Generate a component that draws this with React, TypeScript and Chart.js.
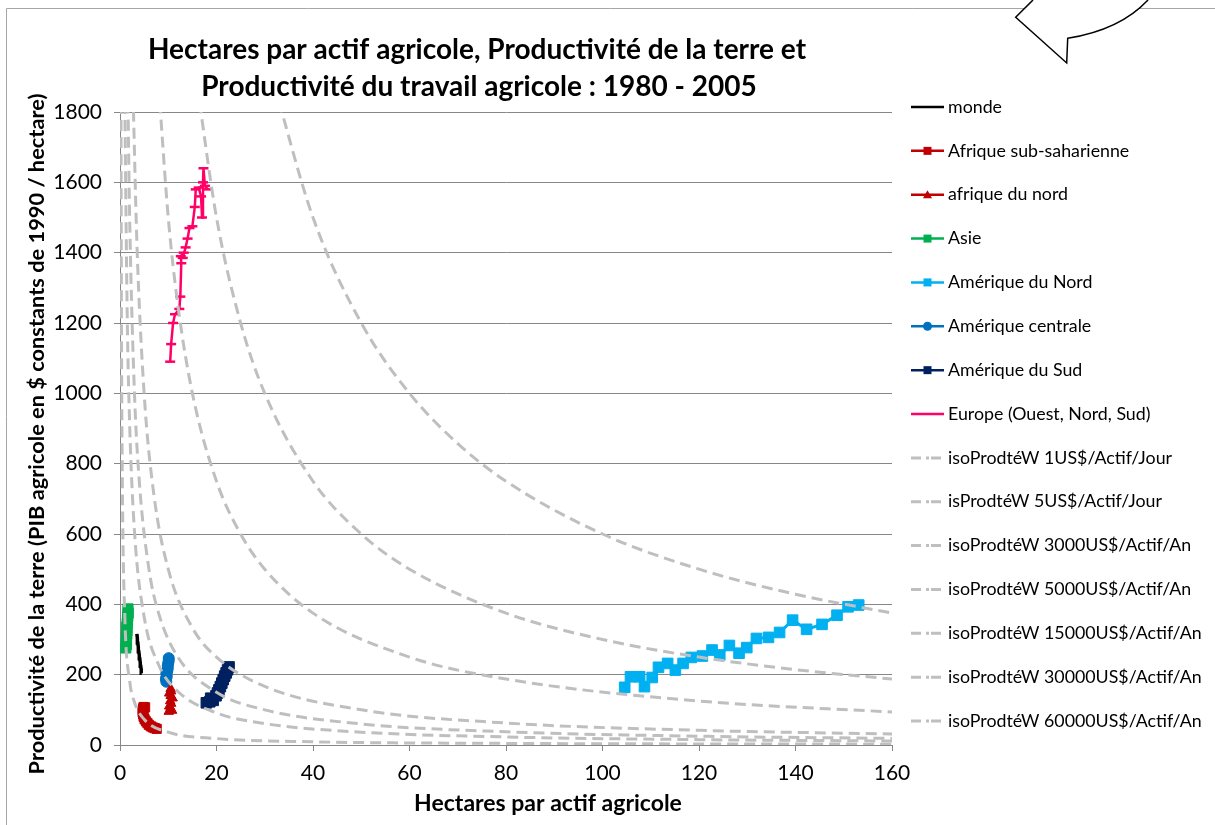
import React, { useEffect, useRef } from 'react';
import { Chart, registerables } from 'chart.js';

Chart.register(...registerables);

const FONT = 'Lato, "Open Sans", sans-serif';

// ---------- Titles ----------
const titleLines = [
  'Hectares par actif agricole, Productivité de la terre et',
  'Productivité du travail agricole : 1980 - 2005',
];
const xTitle = 'Hectares par actif agricole';
const yTitle = 'Productivité de la terre (PIB agricole en $ constants de 1990 / hectare)';

// ---------- Axis ranges ----------
const xMin = 0, xMax = 160, xStep = 20;
const yMin = 0, yMax = 1800, yStep = 200;

// ---------- Regional series (hectares / worker, $ / hectare) ----------
const mondeHa = [4.5, 4.4, 4.3, 4.2, 4.1, 4.0, 3.9, 3.8, 3.7, 3.6, 3.5];
const mondeProd = [204, 214, 224, 234, 245, 255, 265, 277, 290, 303, 316];

const afSubHa = [7.6, 7.2, 6.8, 6.4, 6.0, 5.7, 5.4, 5.1, 4.9, 4.8, 4.7, 4.7, 4.8, 5.2, 4.9];
const afSubProd = [46, 48, 50, 53, 57, 62, 67, 73, 80, 87, 93, 99, 104, 107, 108];

const afNordHa = [10.1, 10.8, 10.5, 10.2, 10.6, 10.4, 10.9, 10.5, 10.2, 10.6, 10.5];
const afNordProd = [95, 98, 104, 110, 118, 125, 133, 140, 147, 153, 160];

const asieHa = [1.2, 1.3, 1.35, 1.3, 1.4, 1.45, 1.4, 1.5, 1.55, 1.6, 1.7, 1.65];
const asieProd = [276, 285, 295, 305, 315, 325, 335, 345, 355, 365, 375, 387];

const amNordHa = [104.6, 105.8, 107.7, 108.7, 110.3, 111.6, 113.5, 115.1, 116.7, 118.4, 120.7, 122.7, 124.3,
  126.3, 128.3, 129.9, 131.9, 134.4, 136.7, 139.4, 142.3, 145.5, 148.6, 150.9, 153.1];
const amNordProd = [164, 194, 194, 166, 192, 221, 232, 213, 232, 249, 253, 270, 256,
  283, 261, 277, 303, 306, 320, 355, 329, 343, 369, 393, 398];

const amCentHa = [9.6, 9.5, 9.7, 9.6, 9.8, 9.9, 9.9, 10.0, 10.1, 10.1];
const amCentProd = [180, 188, 195, 203, 210, 218, 226, 233, 240, 247];

const amSudHa = [17.9, 18.6, 19.3, 18.8, 19.9, 20.2, 20.5, 20.8, 21.1, 21.4, 21.7, 22.0, 22.3, 22.6];
const amSudProd = [120, 123, 127, 133, 140, 148, 157, 166, 176, 186, 196, 205, 214, 222];

const europeHa = [10.4, 10.6, 11.0, 11.4, 12.3, 12.5, 12.7, 12.6, 13.2, 13.0, 13.6, 14.0, 14.4, 15.0,
  15.5, 15.7, 16.3, 16.8, 17.0, 17.2, 17.3, 17.6, 18.2];
const europeProd = [1090, 1140, 1200, 1225, 1240, 1275, 1370, 1390, 1400, 1385, 1415, 1440, 1470, 1475,
  1530, 1580, 1585, 1560, 1500, 1600, 1640, 1590, 1580];

// ---------- Iso-productivity curves (hectares, $ / hectare) ----------
const iso1Ha = [0.2, 0.3, 0.5, 1, 2, 3, 5, 10, 20, 40, 80, 160];
const iso1Prod = [1825, 1217, 730, 365, 182.5, 121.7, 73, 36.5, 18.3, 9.1, 4.6, 2.3];

const iso5Ha = [1, 1.5, 2, 3, 5, 8, 12, 20, 30, 50, 80, 120, 160];
const iso5Prod = [1825, 1217, 912.5, 608.3, 365, 228.1, 152.1, 91.3, 60.8, 36.5, 22.8, 15.2, 11.4];

const iso3000Ha = [1.6, 2, 3, 4, 6, 8, 12, 20, 30, 50, 80, 120, 160];
const iso3000Prod = [1875, 1500, 1000, 750, 500, 375, 250, 150, 100, 60, 37.5, 25, 18.75];

const iso5000Ha = [2.7, 3.5, 5, 7, 10, 15, 20, 30, 50, 80, 120, 160];
const iso5000Prod = [1852, 1429, 1000, 714.3, 500, 333.3, 250, 166.7, 100, 62.5, 41.7, 31.25];

const iso15000Ha = [8, 10, 12, 15, 20, 25, 30, 40, 60, 80, 120, 160];
const iso15000Prod = [1875, 1500, 1250, 1000, 750, 600, 500, 375, 250, 187.5, 125, 93.75];

const iso30000Ha = [16, 20, 25, 30, 40, 50, 60, 80, 100, 120, 140, 160];
const iso30000Prod = [1875, 1500, 1200, 1000, 750, 600, 500, 375, 300, 250, 214.3, 187.5];

const iso60000Ha = [32, 40, 50, 60, 70, 80, 100, 120, 140, 160];
const iso60000Prod = [1875, 1500, 1200, 1000, 857.1, 750, 600, 500, 428.6, 375];

// ---------- Legend / series labels ----------
const seriesNames = [
  'monde', 'Afrique sub-saharienne', 'afrique du nord', 'Asie', 'Amérique du Nord',
  'Amérique centrale', 'Amérique du Sud', 'Europe (Ouest, Nord, Sud)',
];
const isoNames = [
  'isoProdtéW 1US$/Actif/Jour', 'isProdtéW 5US$/Actif/Jour', 'isoProdtéW 3000US$/Actif/An',
  'isoProdtéW 5000US$/Actif/An', 'isoProdtéW 15000US$/Actif/An', 'isoProdtéW 30000US$/Actif/An',
  'isoProdtéW 60000US$/Actif/An',
];

const ISO_COLOR = '#bfbfbf';
const GRID = '#878787';

const pts = (xs: number[], ys: number[]) => xs.map((x, i) => ({ x, y: ys[i] }));

type Style = { color: string; marker: string | false; radius: number; width: number };
const seriesStyles: Style[] = [
  { color: '#000000', marker: false, radius: 0, width: 3.5 },
  { color: '#c00000', marker: 'rect', radius: 6.5, width: 3 },
  { color: '#c00000', marker: 'triangle', radius: 5.5, width: 3 },
  { color: '#00b050', marker: 'rect', radius: 7.2, width: 3 },
  { color: '#00b0f0', marker: 'rect', radius: 7.5, width: 3 },
  { color: '#0070c0', marker: 'circle', radius: 5.5, width: 3 },
  { color: '#002060', marker: 'rect', radius: 7.5, width: 3 },
  { color: '#ff0066', marker: 'line', radius: 5, width: 2.5 },
];
const seriesData = [
  pts(mondeHa, mondeProd), pts(afSubHa, afSubProd), pts(afNordHa, afNordProd), pts(asieHa, asieProd),
  pts(amNordHa, amNordProd), pts(amCentHa, amCentProd), pts(amSudHa, amSudProd), pts(europeHa, europeProd),
];
const isoData = [
  pts(iso1Ha, iso1Prod), pts(iso5Ha, iso5Prod), pts(iso3000Ha, iso3000Prod), pts(iso5000Ha, iso5000Prod),
  pts(iso15000Ha, iso15000Prod), pts(iso30000Ha, iso30000Prod), pts(iso60000Ha, iso60000Prod),
];

function drawMarker(ctx: CanvasRenderingContext2D, kind: string | false, x: number, y: number, color: string) {
  if (!kind) return;
  ctx.fillStyle = color;
  ctx.strokeStyle = color;
  ctx.beginPath();
  if (kind === 'rect') {
    ctx.rect(x - 4, y - 4, 8, 8);
    ctx.fill();
  } else if (kind === 'triangle') {
    ctx.moveTo(x, y - 4.5);
    ctx.lineTo(x + 4.5, y + 3.5);
    ctx.lineTo(x - 4.5, y + 3.5);
    ctx.closePath();
    ctx.fill();
  } else if (kind === 'circle') {
    ctx.arc(x, y, 4.5, 0, Math.PI * 2);
    ctx.fill();
  } else if (kind === 'line') {
    ctx.lineWidth = 2;
    ctx.moveTo(x - 3, y);
    ctx.lineTo(x + 3, y);
    ctx.stroke();
  }
}

const decorPlugin = {
  id: 'decor',
  afterDraw(chart: any) {
    const ctx: CanvasRenderingContext2D = chart.ctx;
    ctx.save();
    // outer frame
    ctx.strokeStyle = '#a6a6a6';
    ctx.lineWidth = 1;
    ctx.beginPath();
    ctx.moveTo(6.5, 825);
    ctx.lineTo(6.5, 8.5);
    ctx.lineTo(1215, 8.5);
    ctx.stroke();

    // callout arrow
    ctx.beginPath();
    ctx.moveTo(1033, 0);
    ctx.lineTo(1015.7, 17.3);
    ctx.lineTo(1066.7, 63);
    ctx.lineTo(1067.7, 38.3);
    ctx.quadraticCurveTo(1120, 30, 1148, 0);
    ctx.closePath();
    ctx.fillStyle = '#ffffff';
    ctx.fill();
    ctx.beginPath();
    ctx.moveTo(1033, 0);
    ctx.lineTo(1015.7, 17.3);
    ctx.lineTo(1066.7, 63);
    ctx.lineTo(1067.7, 38.3);
    ctx.quadraticCurveTo(1120, 30, 1148, 0);
    ctx.strokeStyle = '#000000';
    ctx.lineWidth = 1.5;
    ctx.stroke();

    // title
    ctx.fillStyle = '#000';
    ctx.textAlign = 'center';
    ctx.textBaseline = 'middle';
    ctx.font = `bold 28px ${FONT}`;
    ctx.fillText(titleLines[0], 477, 50);
    ctx.fillText(titleLines[1], 479, 87);

    // axis titles
    ctx.font = `bold 23px ${FONT}`;
    ctx.fillText(xTitle, 548, 804);
    ctx.save();
    ctx.translate(37, 434);
    ctx.rotate(-Math.PI / 2);
    ctx.font = `bold 21.8px ${FONT}`;
    ctx.fillText(yTitle, 0, 0);
    ctx.restore();

    // legend
    const names = [...seriesNames, ...isoNames];
    const y0 = 107;
    const dy = 43.86;
    ctx.textAlign = 'left';
    ctx.font = `17.8px ${FONT}`;
    names.forEach((name, i) => {
      const y = y0 + i * dy;
      if (i < seriesNames.length) {
        const st = seriesStyles[i];
        ctx.strokeStyle = st.color;
        ctx.lineWidth = 2.5;
        ctx.setLineDash([]);
        ctx.beginPath();
        ctx.moveTo(911, y);
        ctx.lineTo(944, y);
        ctx.stroke();
        drawMarker(ctx, st.marker, 927.5, y, st.color);
      } else {
        ctx.strokeStyle = ISO_COLOR;
        ctx.lineWidth = 3;
        ctx.setLineDash([]);
        ctx.beginPath();
        ctx.moveTo(911, y); ctx.lineTo(921, y);
        ctx.moveTo(926, y); ctx.lineTo(929, y);
        ctx.moveTo(931, y); ctx.lineTo(941, y);
        ctx.stroke();
      }
      ctx.fillStyle = '#000';
      ctx.fillText(name, 948, y);
    });
    ctx.restore();
  },
};

export default function App() {
  const ref = useRef<HTMLCanvasElement | null>(null);

  useEffect(() => {
    document.body.style.margin = '0';
    if (!ref.current) return;
    const datasets: any[] = [];
    seriesData.forEach((d, i) => {
      const st = seriesStyles[i];
      datasets.push({
        label: seriesNames[i],
        data: d,
        showLine: true,
        borderColor: st.color,
        backgroundColor: st.color,
        borderWidth: st.width,
        pointStyle: st.marker || 'circle',
        pointRadius: st.radius,
        pointBackgroundColor: st.color,
        pointBorderColor: st.color,
        pointBorderWidth: st.marker === 'line' ? 2.5 : 1,
        tension: 0,
        order: 1,
      });
    });
    isoData.forEach((d, i) => {
      datasets.push({
        label: isoNames[i],
        data: d,
        showLine: true,
        borderColor: ISO_COLOR,
        backgroundColor: ISO_COLOR,
        borderWidth: 3,
        borderDash: [11, 6],
        pointRadius: 0,
        cubicInterpolationMode: 'monotone',
        order: 0,
      });
    });

    const tickFont = { family: FONT, size: 21 };
    const chart = new Chart(ref.current, {
      type: 'scatter',
      data: { datasets },
      options: {
        animation: false,
        responsive: false,
        maintainAspectRatio: false,
        layout: { padding: { left: 0, right: 323, top: 112, bottom: 0 } },
        plugins: { legend: { display: false }, tooltip: { enabled: false }, title: { display: false } },
        scales: {
          x: {
            type: 'linear',
            min: xMin,
            max: xMax,
            ticks: { stepSize: xStep, color: '#000', font: tickFont, padding: 10, callback: (v: any) => String(v) },
            grid: { drawOnChartArea: false, drawTicks: true, tickLength: 6, color: GRID },
            border: { color: GRID, width: 1 },
            afterFit: (s: any) => { s.height = 80; },
          },
          y: {
            type: 'linear',
            min: yMin,
            max: yMax,
            ticks: { stepSize: yStep, color: '#000', font: tickFont, padding: 12, callback: (v: any) => String(v) },
            grid: { drawOnChartArea: true, drawTicks: true, tickLength: 6, color: GRID },
            border: { color: GRID, width: 1 },
            afterFit: (s: any) => { s.width = 120; },
          },
        },
      },
      plugins: [decorPlugin],
    });
    return () => chart.destroy();
  }, []);

  return (
    <div style={{ width: 1215, height: 825, position: 'relative', background: '#fff' }}>
      <canvas ref={ref} width={1215} height={825} style={{ display: 'block' }} />
    </div>
  );
}
